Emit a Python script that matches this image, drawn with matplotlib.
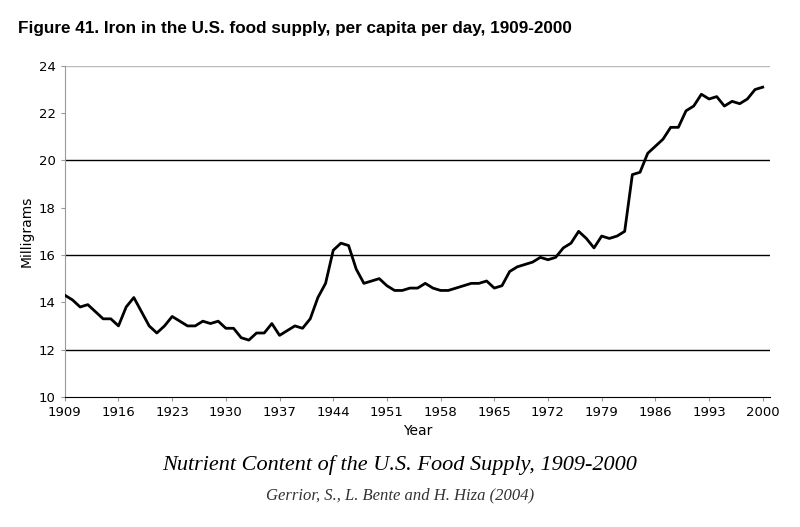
import matplotlib
matplotlib.use("Agg")
import matplotlib.pyplot as plt
import numpy as np

years = np.arange(1909, 2001)
iron_mg = [
    14.3, 14.1, 13.8, 13.9, 13.6, 13.3, 13.3, 13.0, 13.8, 14.2,
    13.6, 13.0, 12.7, 13.0, 13.4, 13.2, 13.0, 13.0, 13.2, 13.1,
    13.2, 12.9, 12.9, 12.5, 12.4, 12.7, 12.7, 13.1, 12.6, 12.8,
    13.0, 12.9, 13.3, 14.2, 14.8, 16.2, 16.5, 16.4, 15.4, 14.8,
    14.9, 15.0, 14.7, 14.5, 14.5, 14.6, 14.6, 14.8, 14.6, 14.5,
    14.5, 14.6, 14.7, 14.8, 14.8, 14.9, 14.6, 14.7, 15.3, 15.5,
    15.6, 15.7, 15.9, 15.8, 15.9, 16.3, 16.5, 17.0, 16.7, 16.3,
    16.8, 16.7, 16.8, 17.0, 19.4, 19.5, 20.3, 20.6, 20.9, 21.4,
    21.4, 22.1, 22.3, 22.8, 22.6, 22.7, 22.3, 22.5, 22.4, 22.6,
    23.0, 23.1,
]
x_ticks = list(range(1909, 2001, 7))
y_ticks = [10, 12, 14, 16, 18, 20, 22, 24]
grid_levels = [12, 16, 20]

fig = plt.figure(figsize=(8.0, 5.27), dpi=100)
ax = fig.add_axes([0.081, 0.247, 0.882, 0.628])

for g in grid_levels:
    ax.axhline(g, color="black", linewidth=1.0, zorder=1)
ax.axhline(24, color="#bbbbbb", linewidth=1.0, zorder=1)
ax.plot(years, iron_mg, color="black", linewidth=2.0, zorder=3)

ax.set_xlim(1909, 2001)
ax.set_ylim(10, 24)
ax.set_xticks(x_ticks)
ax.set_yticks(y_ticks)
ax.tick_params(labelsize=9.5, length=3, color="#999999")
for s in ["top", "right"]:
    ax.spines[s].set_visible(False)
ax.spines["left"].set_color("#999999")
ax.spines["bottom"].set_color("black")
ax.set_xlabel("Year", fontsize=10)
ax.set_ylabel("Milligrams", fontsize=10)

fig.text(0.022, 0.945, "Figure 41. Iron in the U.S. food supply, per capita per day, 1909-2000",
         fontsize=12.3, fontweight="bold", family="Liberation Sans", va="center")
fig.text(0.5, 0.118, "Nutrient Content of the U.S. Food Supply, 1909-2000",
         fontsize=16, style="italic", family="Liberation Serif", ha="center", va="center")
fig.text(0.5, 0.06, "Gerrior, S., L. Bente and H. Hiza (2004)",
         fontsize=12, style="italic", family="Liberation Serif", ha="center", va="center",
         color="#333333")

fig.savefig("out.png", dpi=100)
